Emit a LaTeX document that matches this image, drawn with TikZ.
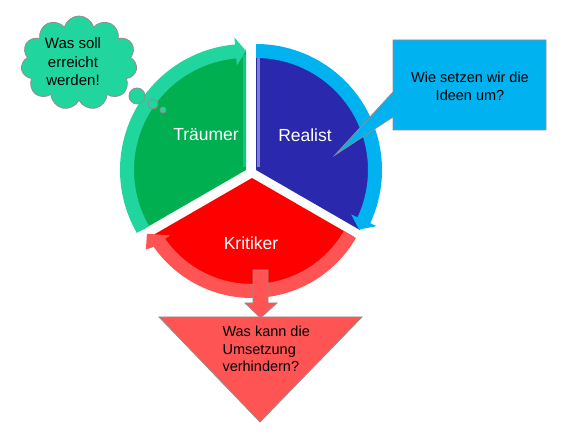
\documentclass[tikz,border=0pt]{standalone}
\usepackage{fontspec}
\setmainfont{Liberation Sans}
\usetikzlibrary{shapes.symbols}

\begin{document}
\begin{tikzpicture}[x=1pt, y=1pt,
    role/.style={text=white, font=\fontsize{17.5}{21}\selectfont},
    note/.style={text=black, align=center, font=\fontsize{14.5}{18}\selectfont}]

    % Define colors
    \definecolor{dreamgreen}{RGB}{0,176,80}
    \definecolor{dreamring}{RGB}{32,214,158}
    \definecolor{realblue}{RGB}{42,40,172}
    \definecolor{realring}{RGB}{0,178,240}
    \definecolor{criticred}{RGB}{255,0,0}
    \definecolor{criticring}{RGB}{255,84,84}
    \definecolor{outlinegray}{RGB}{150,140,140}

    \useasboundingbox (0,0) rectangle (570,435);

    % Traeumer
    \fill[dreamgreen] (246,265) -- ++(90:120) arc[start angle=90,end angle=210,radius=120] -- cycle;
    \draw[dreamring!60!dreamgreen, line width=3] (244,268) -- (244,380);
    \begin{scope}[shift={(246,265)}]
        \fill[dreamring] (210:126) arc[start angle=210,end angle=95,radius=126] -- (95:133) -- (90:119)
            -- (95:105) -- (95:112) arc[start angle=95,end angle=210,radius=112] -- cycle;
    \end{scope}

    %-------------
    % Realist
    \fill[realblue] (256,265) -- ++(-30:120) arc[start angle=-30,end angle=90,radius=120] -- cycle;
    \draw[realblue!60!white, line width=3] (258,268) -- (258,380);
    \begin{scope}[shift={(256,265)}]
        \fill[realring] (90:126) arc[start angle=90,end angle=-25,radius=126] -- (-25:133) -- (-30:119)
            -- (-25:105) -- (-25:112) arc[start angle=-25,end angle=90,radius=112] -- cycle;
    \end{scope}

    %-------------
    % Kritiker
    \fill[criticred] (252,257) -- ++(210:118) arc[start angle=210,end angle=330,radius=118] -- cycle;
    \begin{scope}[shift={(252,257)}]
        \fill[criticring] (-30:120) arc[start angle=-30,end angle=-145,radius=120] -- (-146:128) -- (-152:119)
            -- (-145:100) -- (-145:106) arc[start angle=-145,end angle=-30,radius=106] -- cycle;
    \end{scope}

    \node[role] (dreamer) at (206,300) {Träumer};
    \node[role] (realist) at (305,300) {Realist};
    \node[role] (critic) at (251,192) {Kritiker};

    %-------------
    % Thought cloud
    \node[cloud, cloud puffs=11, aspect=1.2, fill=dreamring, draw=outlinegray, thick,
        minimum width=116, minimum height=94, inner sep=0] (wish) at (79,372) {};
    \filldraw[dreamring, draw=outlinegray, thick] (137,339) circle(8);
    \filldraw[dreamring, draw=outlinegray, thick] (153,331) circle(5);
    \filldraw[dreamring, draw=outlinegray, thick] (163,325) circle(3);
    \node[note, font=\fontsize{15}{18.5}\selectfont] (wishtext) at (73,373) {Was soll\\erreicht\\werden!};

    %-------------
    % Callout
    \filldraw[realring, draw=outlinegray, thick] (393,395) -- (546,395) -- (546,305) -- (393,305)
        -- (393,318) -- (335,280) -- (393,343) -- cycle;
    \node[note] (how) at (470,349) {Wie setzen wir die\\Ideen um?};

    %-------------
    % Down arrow and triangle
    \filldraw[criticring, draw=outlinegray, thick] (253,165) -- (268,165) -- (268,132) -- (277,132)
        -- (260.5,117) -- (245,132) -- (253,132) -- cycle;
    \filldraw[criticring, draw=outlinegray, thick] (159,118) -- (362,118) -- (260,13) -- cycle;
    \node[note, align=left, anchor=west, font=\fontsize{14.5}{17.5}\selectfont] (risk) at (219,86)
        {Was kann die\\Umsetzung\\verhindern?};

\end{tikzpicture}
\end{document}
